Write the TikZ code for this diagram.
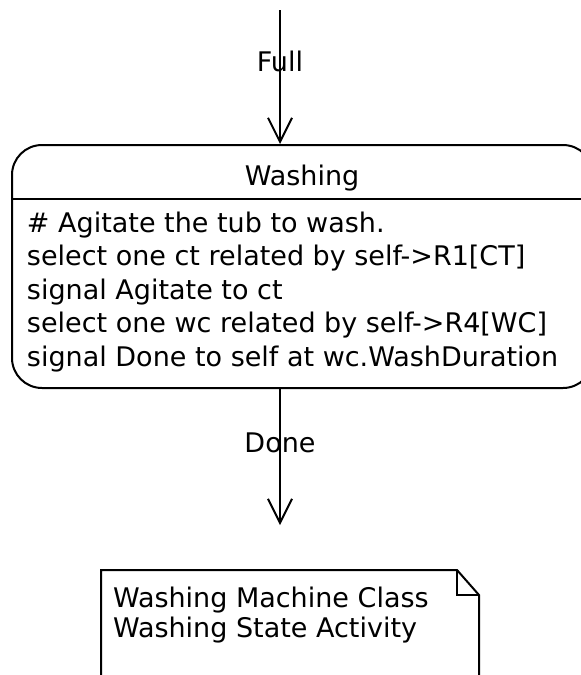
\documentclass[tikz,border=0pt]{standalone}
\usepackage{fontspec}
\setmainfont{DejaVu Sans}
\usetikzlibrary{arrows.meta}

\begin{document}
\begin{tikzpicture}[x=1pt,y=-1pt,line width=2pt,
  statebox/.style={draw,rounded corners=30pt,inner sep=0pt,minimum width=581pt,minimum height=243pt},
  trans/.style={-{Straight Barb[length=24pt,width=24pt]}},
  lbl/.style={anchor=base,inner sep=0pt,font=\fontsize{27}{33}\selectfont},
  txt/.style={anchor=base west,inner sep=0pt,align=left}]
\useasboundingbox (0,0) rectangle (581,675);
\clip (0,0) rectangle (581,675);
% state
\node[statebox] (washing) at (302.5,266.5) {};
\coordinate (sep) at (0,199);
\draw (washing.west |- sep) -- (washing.east |- sep);
\node[lbl] (title) at (302,185) {Washing};
\node[txt,font=\fontsize{27}{33.5}\selectfont] (body) at (26,366) {\# Agitate the tub to wash.\\
select one ct related by self->R1[CT]\\
signal Agitate to ct\\
select one wc related by self->R4[WC]\\
signal Done to self at wc.WashDuration};
% transitions
\coordinate (start) at (280,10);
\coordinate (end) at (280,525);
\draw[trans] (start) -- node[lbl,pos=0.46] (full) {Full} (start |- washing.north);
\draw[trans] (washing.south -| end) -- node[lbl,pos=0.47] (done) {Done} (end);
% note
\draw (101,700) -- (101,570) -- (457,570) -- (479,595) -- (479,700);
\draw (457,570) -- (457,595) -- (479,595);
\node[txt,font=\fontsize{27}{30}\selectfont] (note) at (112,637) {Washing Machine Class\\
Washing State Activity};
\end{tikzpicture}
\end{document}
